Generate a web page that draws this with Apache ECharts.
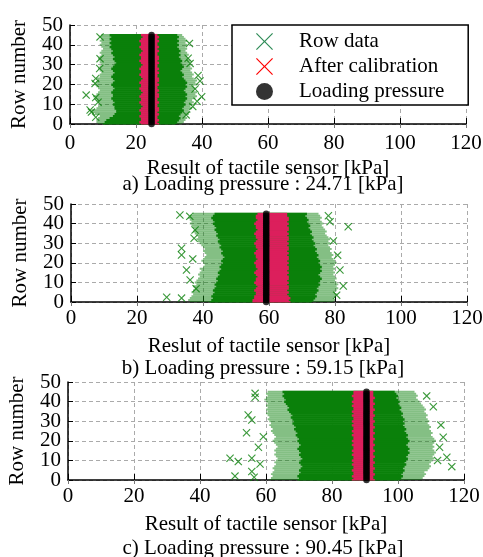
<!DOCTYPE html>
<html>
<head>
<meta charset="utf-8">
<script src="https://cdn.jsdelivr.net/npm/echarts@6/dist/echarts.min.js"></script>
<style>
html, body { margin: 0; padding: 0; background: #fff; }
#tactile-chart { width: 483px; height: 557px; }
</style>
</head>
<body>
<div id="tactile-chart"></div>
<script>
// row index of the sensor (0..45)
const rows = [0, 1, 2, 3, 4, 5, 6, 7, 8, 9, 10, 11, 12, 13, 14, 15, 16, 17, 18, 19, 20, 21, 22,
  23, 24, 25, 26, 27, 28, 29, 30, 31, 32, 33, 34, 35, 36, 37, 38, 39, 40, 41, 42, 43, 44, 45]
const pressures = [24.71, 59.15, 90.45]
const captionLetters = ['a)', 'b)', 'c)']
const axisTitles = ['Result of tactile sensor [kPa]', 'Reslut of tactile sensor [kPa]', 'Result of tactile sensor [kPa]']

// a) raw data cloud per row: outer (sparse) and inner (dense) extent, calibrated band
const aSparseLo = [8.5, 8, 8, 8.5, 9, 7.5, 7, 6.5, 8, 8.5, 9, 8.5, 8, 7.5, 7, 8, 8.5, 9, 8.5, 8, 7.5, 8, 8.5,
  8, 9, 9, 9.5, 9, 8.5, 9, 9.5, 9, 9, 8.5, 9, 9.5, 9, 9.5, 10, 9.5, 9, 9.5, 9, 9.5, 9, 9.5]
const aDenseLo = [10, 10.5, 11, 12, 13, 13.5, 14, 14, 13.5, 13.5, 13, 13.5, 13, 12.5, 13, 13, 12.5, 13, 13.5,
  13, 12.5, 13, 13.5, 13, 12.5, 13, 13.5, 13, 12.5, 13, 13.5, 14, 13.5, 13, 13.5, 13, 12.5, 13, 12.5, 12,
  12.5, 12, 12.5, 12, 12.5, 12]
const aRedLo = [21.5, 21, 21.5, 21.5, 21, 21.5, 21.5, 21, 21.5, 22, 21.5, 21, 21.5, 21.5, 21, 21.5, 22, 21.5,
  21, 21.5, 21.5, 21, 21.5, 22, 21.5, 21, 21.5, 21.5, 21, 21.5, 22, 21.5, 21, 21.5, 21.5, 21, 21.5, 22, 21.5,
  21, 21.5, 21.5, 21, 21.5, 22, 21.5]
const aRedHi = [27, 26.5, 27, 26.5, 26.5, 27, 26.5, 27, 27, 26.5, 26.5, 27, 26.5, 26.5, 27, 27, 26.5, 27, 26.5,
  26.5, 27, 26.5, 27, 27, 26.5, 26.5, 27, 26.5, 27, 26.5, 26.5, 27, 26.5, 27, 27, 26.5, 26.5, 27, 26.5, 27,
  26.5, 26.5, 27, 26.5, 27, 26.5]
const aDenseHi = [32, 32.5, 33, 33.5, 33, 33.5, 34, 34.5, 34, 34.5, 35, 34.5, 35, 35.5, 35, 35.5, 35, 34.5, 35,
  35.5, 35, 35.5, 35, 34.5, 34, 34.5, 34, 33.5, 34, 34.5, 34, 33.5, 34, 33.5, 33, 33.5, 33, 33.5, 33, 32.5,
  33, 32.5, 33, 32.5, 33, 32.5]
const aSparseHi = [34, 34.5, 35, 35.5, 35, 36, 36.5, 36, 37, 36.5, 37, 37.5, 37, 38, 38.5, 38, 38.5, 37.5, 38,
  37.5, 38.5, 38, 38.5, 37.5, 37, 37.5, 37, 36.5, 37, 36.5, 36.5, 36, 36.5, 36, 35.5, 36, 35.5, 35, 35.5, 35,
  35.5, 35, 35.5, 35, 34.5, 34]
const aOutliers = [[4.9, 14.6], [6.1, 7.1], [6.5, 6], [7.6, 20.5], [7.8, 23], [9.1, 33], [7.8, 13.4], [7.8, 3.4],
  [9.1, 44], [8.5, 11], [9, 28], [39.4, 21.7], [39.9, 13.8], [37.9, 17.7], [35.8, 33.2], [36.4, 30.6],
  [37.2, 8.8], [36.2, 40.7], [35.2, 4.6], [38.8, 24.5], [38.5, 11.5]]

// b)
const bSparseLo = [36, 35.5, 36, 36.5, 37, 36.5, 37, 37.5, 37, 38, 37.5, 38, 38.5, 39, 38.5, 39, 39.5, 39, 40,
  40.5, 40, 39.5, 40, 40.5, 41, 40.5, 40, 40.5, 40, 39.5, 39, 38.5, 38, 38.5, 38, 37.5, 37, 37.5, 37, 36.5,
  36, 36.5, 36, 35.5, 36, 37]
const bDenseLo = [42, 42.5, 43, 42.5, 43, 43.5, 43, 43.5, 44, 43.5, 44, 44.5, 44, 44.5, 45, 44.5, 45, 45.5, 45,
  45.5, 46, 45.5, 46, 46.5, 46, 45.5, 46, 45.5, 45, 45.5, 45, 44.5, 45, 44.5, 44, 44.5, 44, 43.5, 44, 43.5,
  43, 43.5, 43, 42.5, 43, 43.5]
const bRedLo = [55, 55, 55.5, 55.5, 56, 56, 55.5, 56, 56.5, 56, 55.5, 56, 56, 56.5, 56, 55.5, 56, 56.5, 56, 56,
  55.5, 56, 56.5, 56, 56, 55.5, 56, 56.5, 56, 56, 55.5, 56, 56.5, 56, 56, 55.5, 56, 56.5, 56, 56, 55.5, 56,
  56.5, 56, 56, 56.5]
const bRedHi = [66.5, 66, 66.5, 66, 65.5, 66, 65.5, 66, 66, 65.5, 66, 65.5, 66, 66, 65.5, 66, 65.5, 66, 66,
  65.5, 66, 65.5, 66, 66, 65.5, 66, 65.5, 66, 66, 65.5, 66, 65.5, 66, 66, 65.5, 66, 65.5, 66, 66, 65.5, 66,
  65.5, 66, 66, 65.5, 65.5]
const bDenseHi = [73, 73.5, 74, 74.5, 74, 74.5, 75, 74.5, 75, 75.5, 75, 75.5, 76, 75.5, 75, 75.5, 76, 75.5, 76,
  75.5, 75, 75.5, 75, 74.5, 75, 74.5, 74, 74.5, 74, 73.5, 74, 73.5, 73, 73.5, 73, 72.5, 73, 72.5, 72, 72.5,
  72, 71.5, 72, 71.5, 71, 71.5]
const bSparseHi = [79.5, 80, 79.5, 80, 80.5, 80, 80.5, 81, 80.5, 81, 80.5, 80, 80.5, 80, 79.5, 80, 79.5, 80,
  79.5, 80, 80.5, 80, 79.5, 79, 79.5, 79, 78.5, 79, 78.5, 78, 78.5, 78, 78.5, 78, 77.5, 77, 77.5, 77, 76.5,
  76, 76.5, 76, 75.5, 76, 75.5, 75]
const bOutliers = [[33, 44.4], [84, 38.4], [29, 2.4], [33.5, 27.4], [33.5, 24], [36.9, 22], [78.5, 41],
  [79.5, 31.1], [82.5, 8.2], [80.5, 3.5], [36, 43.7], [37.6, 36.7], [37.3, 32.5], [35, 16.3], [36.1, 11.2],
  [33.5, 2], [37.9, 6.8], [81.5, 16.3], [80.8, 23.9], [78, 44]]

// c)
const cSparseLo = [61, 61.5, 62, 61.5, 62, 62.5, 62, 62.5, 63, 62.5, 63, 63.5, 63, 62.5, 63, 62.5, 63, 63.5, 63,
  62.5, 62, 62.5, 63, 62.5, 62, 61.5, 62, 61.5, 61, 61.5, 61, 60.5, 61, 60.5, 60, 60.5, 60, 60.5, 60, 60.5,
  60, 59.5, 60, 60.5, 60, 60.5]
const cDenseLo = [69.5, 70, 69.5, 70, 70.5, 70, 70.5, 71, 70.5, 70, 70.5, 71, 70.5, 70, 70.5, 70, 69.5, 70,
  70.5, 70, 69.5, 70, 69.5, 69, 69.5, 69, 68.5, 69, 68.5, 68, 68.5, 68, 67.5, 68, 67.5, 67, 66.5, 67, 66.5,
  66, 65.5, 66, 65.5, 65, 65.5, 65]
const cRedLo = [86, 86.5, 86, 86.5, 86.5, 86, 86.5, 86.5, 86, 86.5, 86, 86.5, 86.5, 86, 86.5, 86, 86.5, 86.5,
  86, 86.5, 86, 86.5, 86.5, 86, 86.5, 86, 86.5, 86.5, 86, 86.5, 86, 86.5, 86.5, 86, 86.5, 86, 86.5, 86.5, 86,
  86.5, 86, 86.5, 86.5, 86, 86.5, 86.5]
const cRedHi = [93, 92.5, 92.5, 93, 92.5, 92.5, 93, 92.5, 92.5, 93, 92.5, 92.5, 93, 92.5, 92.5, 93, 92.5, 92.5,
  93, 92.5, 92.5, 93, 92.5, 92.5, 93, 92.5, 92.5, 93, 92.5, 92.5, 93, 92.5, 92.5, 93, 92.5, 92.5, 93, 92.5,
  92.5, 93, 92.5, 92.5, 93, 92.5, 92.5, 92.5]
const cDenseHi = [100.5, 101, 101.5, 101, 101.5, 102, 101.5, 102, 102.5, 102, 102.5, 103, 102.5, 103, 103.5,
  103, 103.5, 103, 102.5, 103, 103.5, 103, 102.5, 103, 102.5, 102, 102.5, 102, 101.5, 102, 101.5, 102, 101.5,
  101, 101.5, 101, 100.5, 101, 100.5, 100, 100.5, 100, 99.5, 100, 99.5, 99]
const cSparseHi = [107, 107.5, 108, 108.5, 108, 109, 109.5, 110, 109.5, 110, 110.5, 111, 110.5, 111, 111.5, 111,
  110.5, 111, 110.5, 111, 111.5, 111, 110.5, 110, 110.5, 110, 109.5, 110, 109.5, 109, 109.5, 109, 108.5, 109,
  108.5, 108, 108.5, 108, 107.5, 107, 106.5, 106, 105.5, 106, 105.5, 105]
const cOutliers = [[49.1, 11.1], [51.6, 9.4], [50.6, 2], [56.7, 44.2], [56.7, 42.2], [54.6, 33.2], [55.7, 30.6],
  [54.1, 24.1], [59.2, 22.1], [57.7, 16.7], [55.7, 11.1], [55.7, 4.3], [56.4, 1.4], [58.2, 8.2], [113.7, 21.8],
  [114.8, 11.6], [116.3, 6.8], [110.7, 37.4], [108.7, 42.9], [112.6, 16.7], [112, 10], [113, 28]]

const panels = [
  { sparseLo: aSparseLo, denseLo: aDenseLo, redLo: aRedLo, redHi: aRedHi, denseHi: aDenseHi, sparseHi: aSparseHi, outliers: aOutliers },
  { sparseLo: bSparseLo, denseLo: bDenseLo, redLo: bRedLo, redHi: bRedHi, denseHi: bDenseHi, sparseHi: bSparseHi, outliers: bOutliers },
  { sparseLo: cSparseLo, denseLo: cDenseLo, redLo: cRedLo, redHi: cRedHi, denseHi: cDenseHi, sparseHi: cSparseHi, outliers: cOutliers }
]

const serif = "'Liberation Serif', 'Times New Roman', serif"
const fontSize = 21
const green = '#0a800a'
const red = '#dc1f5c'
const cross = 'path://M0,2L2,0L10,8L18,0L20,2L12,10L20,18L18,20L10,12L2,20L0,18L8,10Z'
const thinCross = 'path://M0,1L1,0L10,9L19,0L20,1L11,10L20,19L19,20L10,11L1,20L0,19L9,10Z'

const grids = [
  { left: 70, top: 25, width: 396, height: 99 },
  { left: 71, top: 204, width: 396, height: 98 },
  { left: 68, top: 382, width: 396, height: 98 }
]
const labelMargins = [9, 6, 6]
const captionTops = [174, 358, 538]

function band (lo, hi) {
  return rows.map((r, i) => [r, lo[i], hi[i]])
}

function bandRender (color, opacity, overlap) {
  return function (params, api) {
    const row = api.value(0)
    const p0 = api.coord([api.value(1), row + 0.5])
    const p1 = api.coord([api.value(2), Math.max(row - 0.5, 0)])
    return {
      type: 'rect',
      shape: { x: p0[0], y: p0[1], width: p1[0] - p0[0], height: p1[1] - p0[1] + overlap },
      style: { fill: color, opacity: opacity }
    }
  }
}

// the y labels are taller than their spacing, so they are split over two
// overlaid axes (0/20/40 and 10/30/50) to keep ECharts from hiding any
function rowAxis (i, even) {
  return {
    gridIndex: i,
    type: 'value',
    position: 'left',
    min: 0,
    max: 50,
    interval: 10,
    name: even ? 'Row number' : '',
    nameLocation: 'middle',
    nameGap: 40,
    nameTextStyle: { fontFamily: serif, fontSize: fontSize, color: '#000' },
    axisLine: { show: even, lineStyle: { color: '#000', width: 1.5 } },
    axisTick: { show: even, inside: true, length: 5, lineStyle: { color: '#000' } },
    axisLabel: {
      fontFamily: serif,
      fontSize: fontSize,
      color: '#000',
      margin: 7,
      showMinLabel: true,
      showMaxLabel: true,
      formatter: v => ((v % 20 === 0) === even ? String(v) : '')
    },
    splitLine: { show: even, lineStyle: { color: '#aaa', type: [4, 3] } }
  }
}

const xAxes = []
const yAxes = []
const series = []
panels.forEach((p, i) => {
  xAxes.push({
    gridIndex: i,
    type: 'value',
    min: 0,
    max: 120,
    interval: 20,
    name: axisTitles[i],
    nameLocation: 'middle',
    nameGap: 34,
    nameTextStyle: { fontFamily: serif, fontSize: fontSize, color: '#000' },
    axisLine: { show: true, lineStyle: { color: '#000', width: 1.5 } },
    axisTick: { show: true, inside: true, length: 6, lineStyle: { color: '#000' } },
    axisLabel: { fontFamily: serif, fontSize: fontSize, color: '#000', margin: labelMargins[i], showMinLabel: true, showMaxLabel: true },
    splitLine: { show: true, lineStyle: { color: '#aaa', type: [4, 3] } }
  })
  yAxes.push(rowAxis(i, true), rowAxis(i, false))
  const common = { xAxisIndex: i, yAxisIndex: 2 * i, silent: true }
  series.push(
    Object.assign({ name: 'Row data', type: 'custom', renderItem: bandRender(green, 0.5, 0), data: band(p.sparseLo, p.sparseHi), encode: { x: [1, 2], y: 0 } }, common),
    Object.assign({ name: 'Row data', type: 'custom', renderItem: bandRender(green, 1, 0.5), data: band(p.denseLo, p.denseHi), encode: { x: [1, 2], y: 0 } }, common),
    Object.assign({ name: 'Row data', type: 'scatter', symbol: cross, symbolSize: 8, itemStyle: { color: green }, data: p.outliers }, common),
    Object.assign({ name: 'After calibration', type: 'custom', renderItem: bandRender(red, 1, 0.5), data: band(p.redLo, p.redHi), encode: { x: [1, 2], y: 0 } }, common),
    Object.assign({ name: 'Loading pressure', type: 'scatter', symbol: 'circle', symbolSize: 6.5, itemStyle: { color: '#000' }, data: rows.map(r => [pressures[i], r]) }, common)
  )
})
// mirrored ticks on the top edge
grids.forEach((g, i) => {
  xAxes.push({
    gridIndex: i,
    type: 'value',
    position: 'top',
    min: 0,
    max: 120,
    interval: 20,
    axisLine: { show: false },
    axisTick: { show: true, inside: true, length: 4, lineStyle: { color: '#777' } },
    axisLabel: { show: false },
    splitLine: { show: false }
  })
})

const myChart = echarts.init(document.getElementById('tactile-chart'))
const option = {
  animation: false,
  backgroundColor: '#fff',
  textStyle: { fontFamily: serif },
  title: pressures.map((v, i) => ({
    text: captionLetters[i] + ' Loading pressure : ' + v.toFixed(2) + ' [kPa]',
    left: 263,
    top: captionTops[i],
    textAlign: 'center',
    padding: 0,
    textStyle: { fontFamily: serif, fontSize: fontSize, fontWeight: 'normal', color: '#000' }
  })),
  legend: {
    orient: 'vertical',
    left: 232,
    top: 25,
    selectedMode: false,
    backgroundColor: '#fff',
    borderColor: '#000',
    borderWidth: 1.5,
    borderRadius: 0,
    padding: [6, 24, 3, 24],
    itemWidth: 17,
    itemHeight: 17,
    itemGap: 4,
    textStyle: { fontFamily: serif, fontSize: fontSize, color: '#000', padding: [0, 0, 0, 21] },
    data: [
      { name: 'Row data', icon: thinCross, itemStyle: { color: '#2e8b57' } },
      { name: 'After calibration', icon: thinCross, itemStyle: { color: '#ff0000' } },
      { name: 'Loading pressure', icon: 'circle', itemStyle: { color: '#000' } }
    ]
  },
  grid: grids.map(g => Object.assign({ outerBoundsMode: 'none' }, g)),
  xAxis: xAxes,
  yAxis: yAxes,
  series: series
}
myChart.setOption(option)
</script>
</body>
</html>
